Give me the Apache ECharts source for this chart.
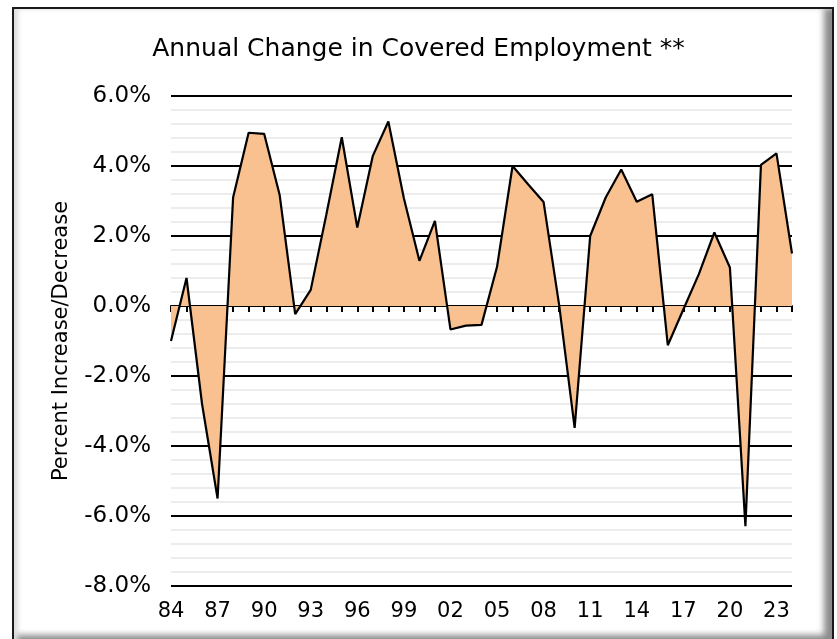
<!DOCTYPE html>
<html>
<head>
<meta charset="utf-8">
<script src="https://cdn.jsdelivr.net/npm/echarts@6/dist/echarts.min.js"></script>
<style>
  html, body { margin: 0; padding: 0; background: #ffffff; overflow: hidden; }
  #frame {
    position: absolute; left: 12px; top: 7px; width: 818px; height: 633px;
    border: 2px solid #1a1a1a; background: #ffffff;
    box-shadow: inset 7px 3px 5px -3px #dcdcdc, inset -15px -14px 6px -7px #8c8c8c;
  }
  #chart { position: absolute; left: 0; top: 0; width: 837px; height: 639px; }
</style>
</head>
<body>
<div id="frame"></div>
<div id="chart"></div>
<script>
const categories = ['84','85','86','87','88','89','90','91','92','93','94','95','96','97','98','99',
  '00','01','02','03','04','05','06','07','08','09','10','11','12','13','14','15','16','17','18','19',
  '20','21','22','23','24'];
const changePct = [-1.0, 0.8, -2.8, -5.5, 3.1, 4.95, 4.92, 3.17, -0.23, 0.46, 2.6, 4.82, 2.24, 4.29, 5.27, 3.08,
  1.29, 2.43, -0.67, -0.56, -0.54, 1.12, 4.0, 3.48, 2.97, 0.03, -3.48, 2.0, 3.1, 3.9, 2.98, 3.19, -1.12, -0.1, 0.91, 2.1,
  1.1, -6.29, 4.03, 4.36, 1.5];
const yTicks = { min: -8, max: 6, interval: 2 };

const FONT = 'DejaVu Sans';
const chart = echarts.init(document.getElementById('chart'), null, { renderer: 'canvas' });
chart.setOption({
  backgroundColor: 'transparent',
  animation: false,
  title: {
    text: 'Annual Change in Covered Employment **',
    left: 'center', top: 32,
    textStyle: { fontFamily: FONT, fontSize: 25, fontWeight: 'normal', color: '#000' }
  },
  grid: { left: 171, right: 45, top: 96, bottom: 53, containLabel: false },
  xAxis: [
    {
      type: 'category', data: categories, boundaryGap: false, position: 'bottom',
      axisLine: { show: false, onZero: false }, axisTick: { show: false },
      axisLabel: { interval: 2, margin: 15, fontFamily: FONT, fontSize: 21, color: '#000' },
      splitLine: { show: false }
    },
    {
      type: 'category', data: categories, boundaryGap: false, position: 'bottom',
      axisLine: { show: true, onZero: true, lineStyle: { color: '#000', width: 2 } },
      axisTick: { show: true, interval: 0, inside: false, length: 6, lineStyle: { color: '#000', width: 2 } },
      axisLabel: { show: false }, splitLine: { show: false }
    }
  ],
  yAxis: {
    type: 'value', min: yTicks.min, max: yTicks.max, interval: yTicks.interval,
    name: 'Percent Increase/Decrease', nameLocation: 'middle', nameGap: 99, nameRotate: 90,
    nameTextStyle: { fontFamily: FONT, fontSize: 21, color: '#000' },
    axisLine: { show: false }, axisTick: { show: false },
    axisLabel: { margin: 20, fontFamily: FONT, fontSize: 23, color: '#000',
      formatter: v => v.toFixed(1) + '%' },
    splitLine: { show: true, lineStyle: { color: '#000', width: 2 } },
    minorTick: { show: false, splitNumber: 5 },
    minorSplitLine: { show: true, lineStyle: { color: '#ececec', width: 2 } }
  },
  series: [{
    type: 'line', data: changePct, xAxisIndex: 0, symbol: 'none', smooth: false,
    lineStyle: { color: '#000', width: 2.2 },
    areaStyle: { color: '#F9C18F', opacity: 1, origin: 'auto' },
    z: 3
  }]
});
</script>
</body>
</html>
